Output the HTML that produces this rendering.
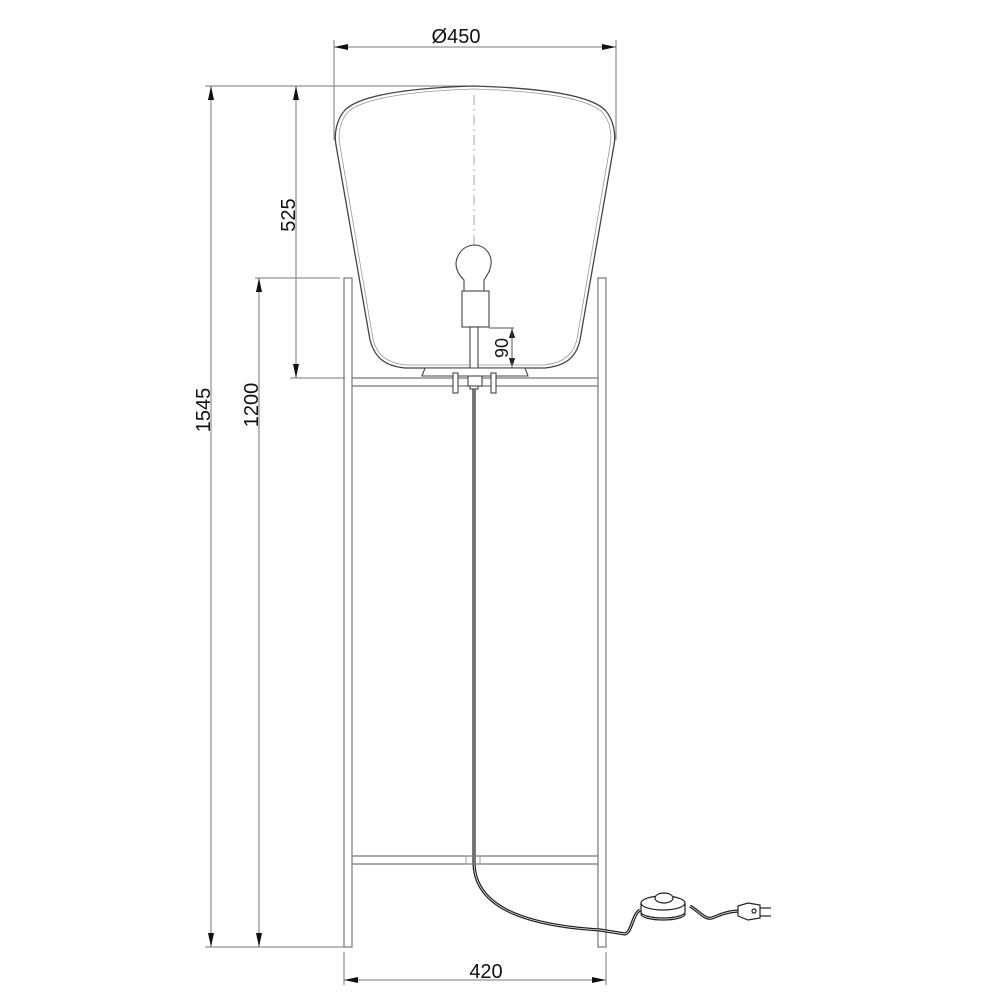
<!DOCTYPE html>
<html><head><meta charset="utf-8"><style>
html,body{margin:0;padding:0;background:#fff;}
svg{display:block;}
text{font-family:"Liberation Sans",sans-serif;font-size:20px;fill:#111;}
</style></head><body>
<svg width="1000" height="1000" viewBox="0 0 1000 1000">
<g stroke="#777" stroke-width="1" fill="none">
<line x1="334" y1="40" x2="334" y2="140"/>
<line x1="616" y1="40" x2="616" y2="140"/>
<line x1="205" y1="86" x2="474" y2="86"/>
<line x1="255" y1="278" x2="340" y2="278"/>
<line x1="290" y1="378" x2="345" y2="378"/>
<line x1="205" y1="947" x2="344" y2="947"/>
<line x1="344" y1="952" x2="344" y2="985"/>
<line x1="606" y1="952" x2="606" y2="985"/>
<line x1="211" y1="86" x2="211" y2="947"/>
<line x1="296" y1="86" x2="296" y2="378"/>
<line x1="259" y1="278" x2="259" y2="947"/>
<line x1="334" y1="47" x2="616" y2="47"/>
<line x1="344" y1="980" x2="606" y2="980"/>
</g>
<g fill="#111">
<path d="M334,47 l14,-3 v6z"/><path d="M616,47 l-14,-3 v6z"/>
<path d="M344,980 l14,-3 v6z"/><path d="M606,980 l-14,-3 v6z"/>
<path d="M211,86 l-3,14 h6z"/><path d="M211,947 l-3,-14 h6z"/>
<path d="M296,86 l-3,14 h6z"/><path d="M296,378 l-3,-14 h6z"/>
<path d="M259,278 l-3,14 h6z"/><path d="M259,947 l-3,-14 h6z"/>
<path d="M512,328 l-3,10 h6z"/><path d="M512,368 l-3,-10 h6z"/>
</g>
<text x="456" y="43" text-anchor="middle">Ø450</text>
<text x="486" y="978" text-anchor="middle">420</text>
<text transform="translate(210,410) rotate(-90)" text-anchor="middle">1545</text>
<text transform="translate(295,215) rotate(-90)" text-anchor="middle">525</text>
<text transform="translate(258,405) rotate(-90)" text-anchor="middle">1200</text>
<text transform="translate(508,348) rotate(-90)" text-anchor="middle" style="font-size:18px">90</text>
<line x1="489" y1="328" x2="514" y2="328" stroke="#555"/>
<line x1="512" y1="328" x2="512" y2="368" stroke="#555"/>
<g stroke="#777" stroke-width="1.2" fill="none">
<rect x="344" y="278" width="8" height="669"/>
<rect x="598" y="278" width="8" height="669"/>
<line x1="352" y1="378" x2="598" y2="378"/>
<line x1="352" y1="386" x2="598" y2="386"/>
<line x1="352" y1="856" x2="598" y2="856"/>
<line x1="352" y1="864" x2="598" y2="864"/>
</g>
<g fill="none" stroke="#444" stroke-width="1.3">
<path d="M474,86 C410,88 360,95 345,110 C336,120 334,135 336,145 L370,340 C375,358 385,366 405,368 L545,368 C565,366 576,358 580,340 L614,145 C616,135 614,120 605,110 C590,95 540,88 474,86 Z"/>
<path d="M474,89 C412,91 363,98 348,112 C339,122 338,136 340,146 L373,339 C377,356 388,363 406,365 L544,365 C562,363 573,356 577,339 L610,146 C612,136 611,122 602,112 C587,98 538,91 474,89 Z" stroke="#999" stroke-width="0.8"/>
</g>
<line x1="474" y1="95" x2="474" y2="380" stroke="#aaa" stroke-dasharray="10,4,2,4"/>
<g fill="#fff" stroke="#444" stroke-width="1.1">
<path d="M464,291 L464,280 C456,272 454,264 458,256 C462,247 470,245 476,245 C484,246 490,252 491,260 C492,268 488,274 484,280 L484,291 Z"/>
<rect x="462" y="291" width="27" height="36"/>
<rect x="470" y="327" width="8" height="62"/>
<path d="M425,368 L525,368 L528,376 L422,376 Z"/>
<rect x="453" y="373" width="5" height="20"/>
<rect x="491" y="373" width="5" height="20"/>
<rect x="468" y="376" width="14" height="10"/>
</g>
<g fill="none" stroke="#222">
<path d="M474,389 L474,862 C474,905 520,925 600,930 L625,934 C632,932 632,915 640,910" stroke-width="3.2"/>
<path d="M474,389 L474,862 C474,905 520,925 600,930 L625,934 C632,932 632,915 640,910" stroke="#fff" stroke-width="0.7"/>
<path d="M690,906 C700,912 705,920 712,918 C720,915 725,912 738,911" stroke-width="3.2"/>
<path d="M690,906 C700,912 705,920 712,918 C720,915 725,912 738,911" stroke="#fff" stroke-width="0.7"/>
</g>
<rect x="466" y="856" width="14" height="8" fill="none" stroke="#888" stroke-width="0.8"/>
<g stroke="#222" stroke-width="1.2" fill="#fff">
<ellipse cx="663" cy="914" rx="22" ry="6"/>
<path d="M641,903 L641,912 A22,6 0 0 0 685,912 L685,903 Z"/>
<ellipse cx="663" cy="903" rx="22" ry="7"/>
<ellipse cx="664" cy="898" rx="9" ry="5"/>
<path d="M738,906 L748,903 L760,905 L760,918 L748,920 L738,916 Z"/>
<circle cx="754" cy="911" r="2"/>
<line x1="760" y1="908" x2="771" y2="908"/>
<line x1="760" y1="916" x2="771" y2="916"/>
</g>
</svg>
</body></html>
